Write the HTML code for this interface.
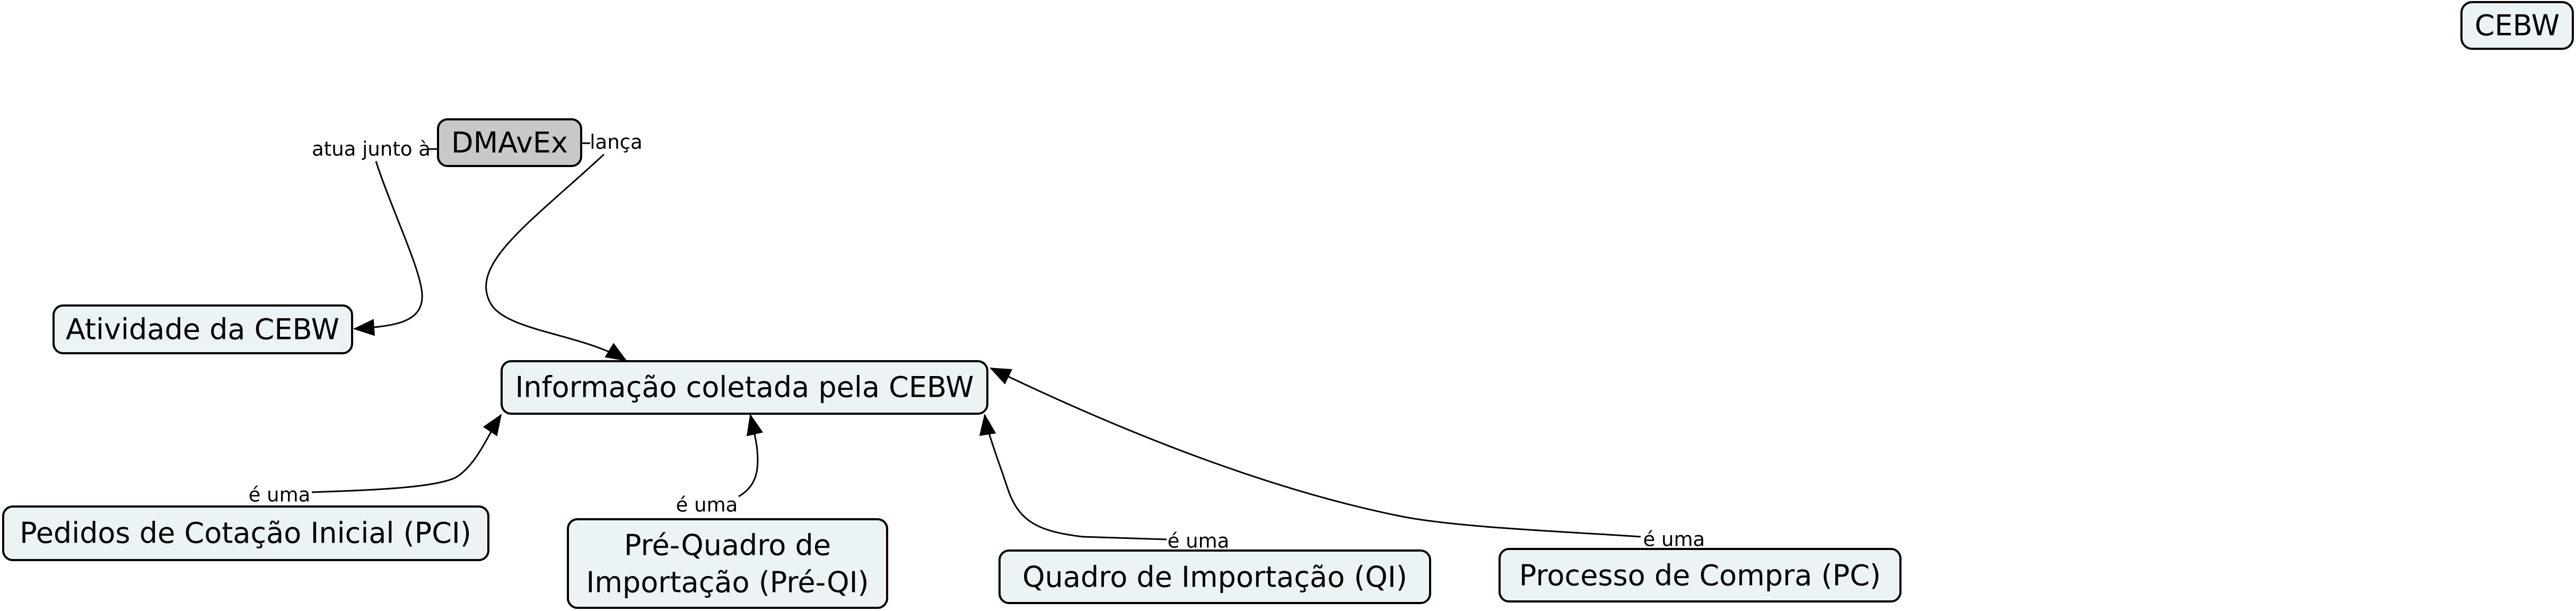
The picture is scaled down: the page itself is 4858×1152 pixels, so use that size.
<!DOCTYPE html>
<html><head><meta charset="utf-8"><style>
html,body{margin:0;padding:0;background:#fff;}
svg{display:block;}
text{font-family:"DejaVu Sans","Liberation Sans",sans-serif;fill:#000;}
.n{fill:#ebf3f5;stroke:#000;stroke-width:4;}
.t{font-size:54px;text-anchor:middle;dominant-baseline:central;}
.l{font-size:37px;text-anchor:middle;dominant-baseline:central;}
.c{fill:none;stroke:#000;stroke-width:3;}
</style></head><body>
<svg width="4858" height="1152" viewBox="0 0 4858 1152" xmlns="http://www.w3.org/2000/svg">
<defs>
<marker id="b" markerWidth="40" markerHeight="32" refX="38" refY="16" orient="auto" markerUnits="userSpaceOnUse"><path d="M0,0 L40,16 L0,32 z" fill="#000"/></marker></defs>

<!-- connectors -->
<path class="c" d="M808,281 L826,281"/>
<path class="c" d="M709,304 C740,400 800,520 796,563 C792,610 740,615 668,620" marker-end="url(#b)"/>
<path class="c" d="M1097,270 L1113,270"/>
<path class="c" d="M1139,291 C1000,420 880,500 927,575 C960,625 1100,630 1181,680" marker-end="url(#b)"/>
<path class="c" d="M588,928 C700,924 820,920 860,900 C900,875 920,820 945,782" marker-end="url(#b)"/>
<path class="c" d="M1393,936 C1430,915 1432,880 1427,840 C1422,810 1418,795 1415,782" marker-end="url(#b)"/>
<path class="c" d="M2200,1017 L2042,1012 C1960,1002 1921,985 1900,920 C1880,860 1862,815 1857,782" marker-end="url(#b)"/>
<path class="c" d="M3094,1012 C2950,1002 2760,995 2650,975 C2420,930 2150,830 1868,694" marker-end="url(#b)"/>

<!-- nodes -->
<rect class="n" x="826" y="225" width="270" height="88" rx="18" style="fill:#c8c8c8"/>
<text class="t" x="961" y="269">DMAvEx</text>
<rect class="n" x="101" y="576" width="563" height="90" rx="18"/>
<text class="t" x="382" y="621">Atividade da CEBW</text>
<rect class="n" x="946" y="681" width="916" height="99" rx="18"/>
<text class="t" x="1404" y="730">Informação coletada pela CEBW</text>
<rect class="n" x="6" y="955" width="915" height="101" rx="18"/>
<text class="t" x="463" y="1005">Pedidos de Cotação Inicial (PCI)</text>
<rect class="n" x="1071" y="979" width="602" height="167" rx="18"/>
<text class="t" x="1372" y="1028">Pré-Quadro de</text>
<text class="t" x="1372" y="1098">Importação (Pré-QI)</text>
<rect class="n" x="1885" y="1038" width="812" height="99" rx="18"/>
<text class="t" x="2291" y="1088">Quadro de Importação (QI)</text>
<rect class="n" x="2828" y="1035" width="756" height="99" rx="18"/>
<text class="t" x="3206" y="1085">Processo de Compra (PC)</text>
<rect class="n" x="4642" y="4" width="210" height="88" rx="20"/>
<text class="t" x="4747" y="48">CEBW</text>

<!-- labels -->
<text class="l" x="700" y="281">atua junto à</text>
<text class="l" x="1162" y="268">lança</text>
<text class="l" x="527" y="933">é uma</text>
<text class="l" x="1333" y="952">é uma</text>
<text class="l" x="2260" y="1020">é uma</text>
<text class="l" x="3157" y="1017">é uma</text>
</svg>
</body></html>
